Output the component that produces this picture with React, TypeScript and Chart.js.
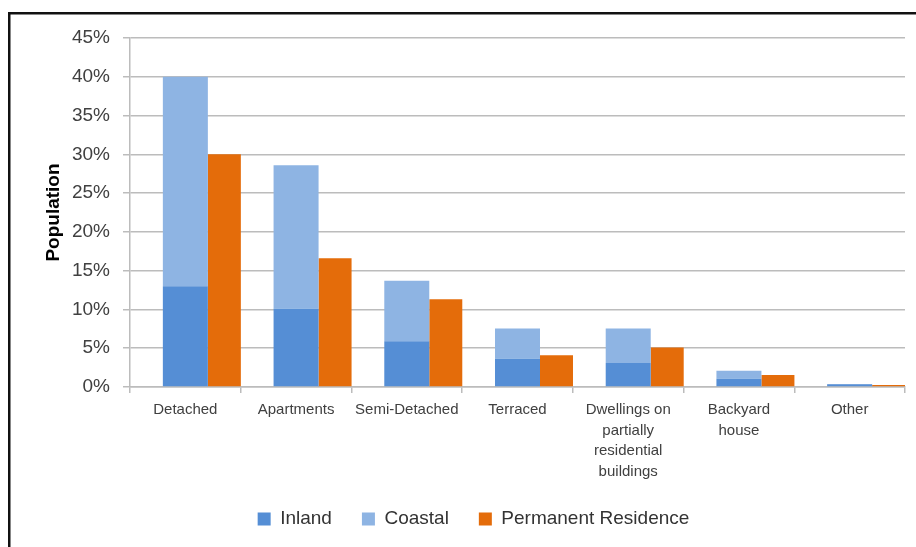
import { useEffect, useRef } from "react";
import { Chart, registerables } from "chart.js";

Chart.register(...registerables);

// Dwelling types
const categories: (string | string[])[] = [
  "Detached",
  "Apartments",
  "Semi-Detached",
  "Terraced",
  ["Dwellings on", "partially", "residential", "buildings"],
  ["Backyard", "house"],
  "Other",
];

// Share of population, in percent
const inland = [13, 10.1, 5.9, 3.65, 3.1, 1.05, 0.35];
const coastal = [27, 18.5, 7.8, 3.9, 4.45, 1.05, 0.05];
const permanentResidence = [30, 16.6, 11.3, 4.1, 5.1, 1.55, 0.25];

const yMax = 45;
const yStep = 5;

const FONT = "'Liberation Sans', Arial, sans-serif";
const TEXT = "#404040";
const GRID = "#bcbcbc";

// Dark frame along the top and left edges of the canvas
const framePlugin = {
  id: "frame",
  afterDraw(chart: Chart) {
    const { ctx, width, height } = chart;
    ctx.save();
    ctx.fillStyle = "#111111";
    ctx.fillRect(8, 12, 2.5, height - 12);
    ctx.fillRect(8, 12, width - 8, 2.5);
    ctx.restore();
  },
};

export default function App() {
  const canvasRef = useRef<HTMLCanvasElement>(null);

  useEffect(() => {
    const canvas = canvasRef.current;
    if (!canvas) return;
    const chart = new Chart(canvas, {
      type: "bar",
      data: {
        labels: categories,
        datasets: [
          {
            label: "Inland",
            data: inland,
            backgroundColor: "#558ED5",
            stack: "split",
            grouped: false,
            categoryPercentage: 1,
            barPercentage: 0.4065,
          },
          {
            label: "Coastal",
            data: coastal,
            backgroundColor: "#8EB4E3",
            stack: "split",
            grouped: false,
            categoryPercentage: 1,
            barPercentage: 0.4065,
          },
          {
            // empty slot that pushes the permanent-residence bar to the right
            label: "",
            data: categories.map(() => null),
            stack: "spacer",
            categoryPercentage: 1.409,
            barPercentage: 0.423,
          },
          {
            label: "Permanent Residence",
            data: permanentResidence,
            backgroundColor: "#E46C0A",
            stack: "permanent",
            categoryPercentage: 1.409,
            barPercentage: 0.423,
          },
        ],
      },
      options: {
        responsive: false,
        animation: false,
        layout: { padding: { left: 42, right: 11, top: 38, bottom: 8.5 } },
        plugins: {
          tooltip: { enabled: false },
          legend: {
            position: "bottom",
            labels: {
              filter: (item) => item.text.length > 0,
              boxWidth: 13,
              boxHeight: 13,
              padding: 30,
              color: "#333333",
              font: { family: FONT, size: 19 },
            },
          },
        },
        scales: {
          x: {
            stacked: true,
            afterFit: (scale) => {
              scale.height = 92.5;
            },
            grid: {
              drawOnChartArea: false,
              drawTicks: true,
              tickLength: 6,
              color: GRID,
              lineWidth: 1.5,
              offset: true,
            },
            border: { color: GRID, width: 1.5 },
            ticks: {
              color: TEXT,
              font: { family: FONT, size: 15, lineHeight: 1.36 },
              padding: 7,
              maxRotation: 0,
              minRotation: 0,
              autoSkip: false,
            },
          },
          y: {
            stacked: true,
            min: 0,
            max: yMax,
            afterFit: (scale) => {
              scale.width = 88;
            },
            grid: { color: GRID, lineWidth: 1.5, tickLength: 7 },
            border: { color: GRID, width: 1.5 },
            ticks: {
              stepSize: yStep,
              autoSkip: false,
              color: TEXT,
              padding: 13,
              font: { family: FONT, size: 19 },
              callback: (v) => `${v}%`,
            },
            title: {
              display: true,
              text: "Population",
              color: "#000000",
              font: { family: FONT, size: 19, weight: "bold" },
              padding: { top: 0.6, bottom: 0 },
            },
          },
        },
      },
      plugins: [framePlugin],
    });
    return () => chart.destroy();
  }, []);

  return (
    <div style={{ position: "absolute", left: 0, top: 0, width: 916, height: 547, background: "#ffffff" }}>
      <canvas ref={canvasRef} width={916} height={547} />
    </div>
  );
}
